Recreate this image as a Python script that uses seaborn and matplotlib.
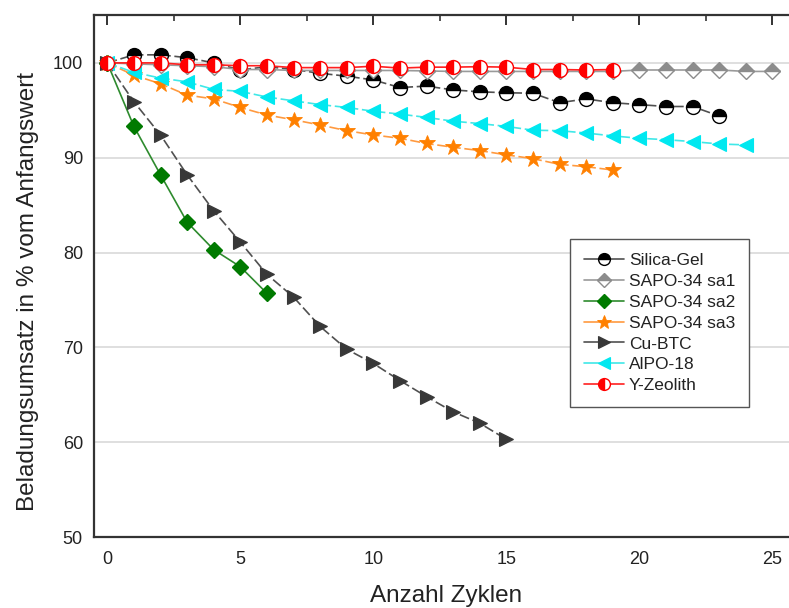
import numpy as np
import pandas as pd
import matplotlib
matplotlib.use("Agg")
import matplotlib.pyplot as plt
from matplotlib.ticker import MultipleLocator
import seaborn as sns

# Cycle numbers and retained loading (% of initial value) per adsorbent
cycles_silica = list(range(0, 24))
silica_gel = [100.0, 100.85, 100.85, 100.55, 100.0, 99.25, 99.6, 99.3, 98.9, 98.6,
              98.2, 97.4, 97.55, 97.15, 96.95, 96.85, 96.8, 95.8, 96.2, 95.8,
              95.6, 95.4, 95.4, 94.4]

cycles_sa1 = list(range(0, 26))
sapo34_sa1 = [100.0, 99.9, 99.8, 99.7, 99.6, 99.3, 99.3, 99.2, 99.2, 99.2,
              99.2, 99.2, 99.15, 99.1, 99.1, 99.1, 99.1, 99.1, 99.1, 99.1,
              99.25, 99.25, 99.25, 99.25, 99.1, 99.1]

cycles_sa2 = list(range(0, 7))
sapo34_sa2 = [100.0, 93.3, 88.2, 83.2, 80.3, 78.5, 75.7]

cycles_sa3 = list(range(0, 20))
sapo34_sa3 = [100.0, 98.7, 97.8, 96.6, 96.2, 95.3, 94.5, 94.0, 93.45, 92.85,
              92.4, 92.05, 91.5, 91.1, 90.75, 90.3, 89.9, 89.3, 89.05, 88.7]

cycles_cubtc = list(range(0, 16))
cu_btc = [100.0, 95.9, 92.4, 88.2, 84.4, 81.1, 77.7, 75.3, 72.2, 69.8,
          68.3, 66.5, 64.8, 63.2, 62.0, 60.3]

cycles_alpo = list(range(0, 25))
alpo_18 = [100.0, 99.0, 98.4, 98.0, 97.2, 97.0, 96.4, 96.0, 95.6, 95.3,
           94.9, 94.6, 94.25, 93.85, 93.6, 93.3, 92.9, 92.85, 92.6, 92.3,
           92.05, 91.9, 91.7, 91.45, 91.35]

cycles_yzeo = list(range(0, 20))
y_zeolith = [100.0, 100.0, 100.0, 99.8, 99.8, 99.7, 99.7, 99.5, 99.5, 99.5,
             99.65, 99.45, 99.55, 99.55, 99.6, 99.55, 99.3, 99.3, 99.25, 99.3]

x_ticks = [0, 5, 10, 15, 20, 25]
y_ticks = [50, 60, 70, 80, 90, 100]

sns.set_theme(style="white")
plt.rcParams["font.family"] = ["Liberation Sans", "DejaVu Sans"]

fig = plt.figure(figsize=(7.89, 6.08), dpi=100)
ax = fig.add_axes([94 / 789, 71 / 608, 705 / 789, 522 / 608])

dash = (0, (6, 2.2))
series = [
    ("Silica-Gel", cycles_silica, silica_gel,
     dict(color="#505050", linestyle=dash, marker="o", markersize=10, fillstyle="top",
          markerfacecolor="black", markerfacecoloralt="white", markeredgecolor="black",
          markeredgewidth=1.0)),
    ("SAPO-34 sa1", cycles_sa1, sapo34_sa1,
     dict(color="#9a9a9a", linestyle="-", marker="D", markersize=8.5, fillstyle="top",
          markerfacecolor="#8c8c8c", markerfacecoloralt="white", markeredgecolor="#8c8c8c",
          markeredgewidth=1.0)),
    ("SAPO-34 sa2", cycles_sa2, sapo34_sa2,
     dict(color="#2e8b2e", linestyle="-", marker="D", markersize=8.5,
          markerfacecolor="#007a00", markeredgecolor="#007a00", markeredgewidth=1.0)),
    ("SAPO-34 sa3", cycles_sa3, sapo34_sa3,
     dict(color="#ff9a40", linestyle=dash, marker="*", markersize=12,
          markerfacecolor="#ff8000", markeredgecolor="#ff8000", markeredgewidth=0.6)),
    ("Cu-BTC", cycles_cubtc, cu_btc,
     dict(color="#505050", linestyle=dash, marker=">", markersize=9.5,
          markerfacecolor="#383838", markeredgecolor="#383838", markeredgewidth=0.8)),
    ("AlPO-18", cycles_alpo, alpo_18,
     dict(color="#40e8e8", linestyle=dash, marker="<", markersize=9.5,
          markerfacecolor="#00e8f0", markeredgecolor="#00e8f0", markeredgewidth=0.8)),
    ("Y-Zeolith", cycles_yzeo, y_zeolith,
     dict(color="#ff2020", linestyle="-", marker="o", markersize=10, fillstyle="left",
          markerfacecolor="red", markerfacecoloralt="white", markeredgecolor="red",
          markeredgewidth=1.0)),
]

for label, xs, ys, style in series:
    df = pd.DataFrame({"Zyklus": xs, "Wert": ys})
    sns.lineplot(data=df, x="Zyklus", y="Wert", ax=ax, label=label,
                 linewidth=1.2, **style)

ax.set_xlim(-0.5, 26.0)
ax.set_ylim(50, 105.05)
ax.set_xticks(x_ticks)
ax.set_yticks(y_ticks)
ax.xaxis.set_minor_locator(MultipleLocator(2.5))
ax.yaxis.set_minor_locator(MultipleLocator(5))

ax.grid(False)
for yv in y_ticks[1:]:
    ax.axhline(yv, color="#dcdcdc", linewidth=1.3, zorder=0)

for side in ["left", "bottom", "top"]:
    ax.spines[side].set_color("#333333")
    ax.spines[side].set_linewidth(1.6)
ax.spines["right"].set_visible(False)

ax.tick_params(axis="both", which="major", direction="in", length=7, width=1.4,
               color="#333333", labelsize=13, labelcolor="#222222", top=True, right=False)
ax.tick_params(axis="both", which="minor", direction="in", length=4, width=1.2,
               color="#333333", top=True, right=False)
ax.tick_params(axis="x", which="major", pad=10)
ax.tick_params(axis="y", which="major", pad=8)

ax.set_xlabel("Anzahl Zyklen", fontsize=17.5, color="#222222", labelpad=12)
ax.set_ylabel("Beladungsumsatz in % vom Anfangswert", fontsize=17.5, color="#222222")
ax.yaxis.set_label_coords(-0.078, 0.47)

leg = ax.legend(loc="upper left", bbox_to_anchor=((570 - 94) / 705, (537 - 239) / 522),
                fontsize=12.5, frameon=True, fancybox=False, edgecolor="#555555",
                framealpha=1.0, labelspacing=0.33, handlelength=2.3, handletextpad=0.3,
                borderpad=0.8, borderaxespad=0.0)
leg.get_frame().set_linewidth(1.0)
for h in leg.legend_handles:
    h.set_linestyle("-")
    h.set_markersize(h.get_markersize() * 0.85)
for t in leg.get_texts():
    t.set_color("#222222")

fig.savefig("out.png", dpi=100)
